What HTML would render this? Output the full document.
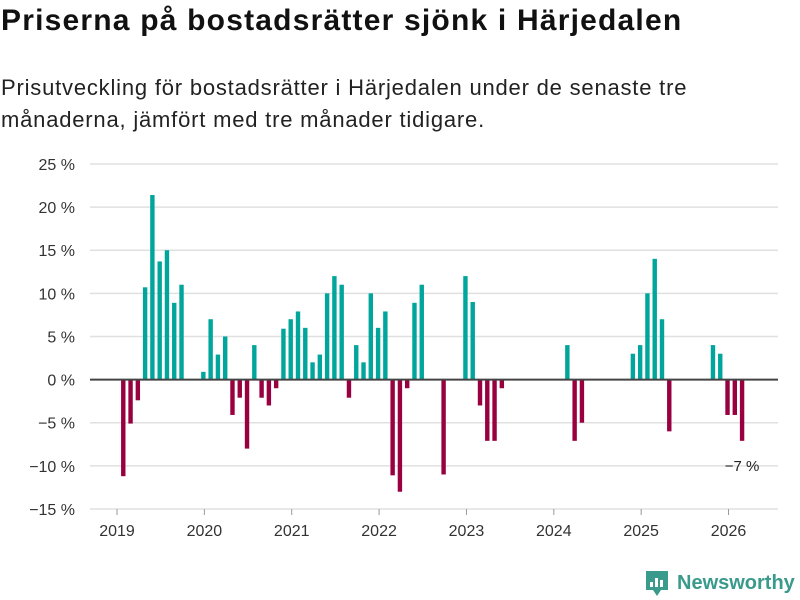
<!DOCTYPE html>
<html><head><meta charset="utf-8">
<style>
body{margin:0;width:800px;height:600px;background:#fff;font-family:"Liberation Sans","DejaVu Sans",sans-serif;overflow:hidden;position:relative}
h1{position:absolute;left:1px;top:4px;margin:0;font-size:30px;font-weight:bold;color:#111;letter-spacing:1.2px;white-space:nowrap}
p{position:absolute;left:1px;top:72px;margin:0;font-size:22px;line-height:32px;color:#222;width:720px;letter-spacing:0.8px}
svg{position:absolute;left:0;top:0}
</style></head><body>
<h1>Priserna på bostadsrätter sjönk i Härjedalen</h1>
<p>Prisutveckling för bostadsrätter i Härjedalen under de senaste tre månaderna, jämfört med tre månader tidigare.</p>
<svg id="chart" width="800" height="600"></svg>
<script>
const monthIdx=[1,2,3,4,5,6,7,8,9,12,13,14,15,16,17,18,19,20,21,22,23,24,25,26,27,28,29,30,31,32,33,34,35,36,37,38,39,40,41,42,45,48,49,50,51,52,53,62,63,64,71,72,73,74,75,76,82,83,84,85,86];
const values=[-11.2,-5.1,-2.4,10.7,21.4,13.7,15,8.9,11,0.9,7,2.9,5,-4.1,-2.1,-8,4,-2.1,-3,-1,5.9,7,7.9,6,2,2.9,10,12,11,-2.1,4,2,10,6,7.9,-11.1,-13,-1,8.9,11,-11,12,9,-3,-7.1,-7.1,-1,4,-7.1,-5,3,4,10,14,7,-6,4,3,-4.1,-4.1,-7.1];
const yTicks=[25,20,15,10,5,0,-5,-10,-15];
const years=[2019,2020,2021,2022,2023,2024,2025,2026];
const svg=document.getElementById('chart');const NS='http://www.w3.org/2000/svg';
const y=v=>379.6-v*8.625;
const x=m=>117+m*7.28;
function mk(t,a,txt){const e=document.createElementNS(NS,t);for(const k in a)e.setAttribute(k,a[k]);if(txt!==undefined)e.textContent=txt;svg.appendChild(e);return e;}
yTicks.forEach(v=>{
 if(v!==0){const g=mk('line',{x1:90,x2:778,y1:y(v),y2:y(v),stroke:'#e0e0e0','stroke-width':1.5});
 
 }
 const t=mk('text',{x:75,y:y(v)+6,'text-anchor':'end','font-size':16,fill:'#333'},(v<0?'\u2212'+(-v):v)+' %');
 
 
});
years.forEach((yr,i)=>{
 const xx=x(i*12);
 const tk=mk('line',{x1:xx,x2:xx,y1:509,y2:515,stroke:'#999','stroke-width':1});
 
 
 const t=mk('text',{x:xx,y:536,'text-anchor':'middle','font-size':16,fill:'#333'},yr);
 
 
});
monthIdx.forEach((m,i)=>{
 const v=values[i];const cx=x(m)-1;
 const r=mk('rect',{x:cx-2.2,width:4.4,y:Math.min(y(v),y(0)),height:Math.abs(y(v)-y(0)),fill:v>=0?'#00a59b':'#99003f'});
 
 
});
const z=mk('line',{x1:90,x2:778,y1:y(0),y2:y(0),stroke:'#444','stroke-width':2});


const last=values[values.length-1];
const lab=mk('text',{x:x(monthIdx[monthIdx.length-1])-1,y:y(last)+30,'text-anchor':'middle','font-size':15,fill:'#222'},'\u2212'+Math.round(-last)+' %');


</script>
<svg width="800" height="600" style="pointer-events:none">
<path d="M646 571h22v19h-7l-4 6-4-6h-7z" fill="#3a9a8c"/>
<rect x="650" y="582" width="3" height="5" fill="#fff"/><rect x="655" y="578" width="3" height="9" fill="#fff"/><rect x="660" y="580" width="3" height="7" fill="#fff"/>
<text x="677" y="589" font-size="20" font-weight="bold" fill="#3a9a8c">Newsworthy</text>
</svg>
</body></html>
